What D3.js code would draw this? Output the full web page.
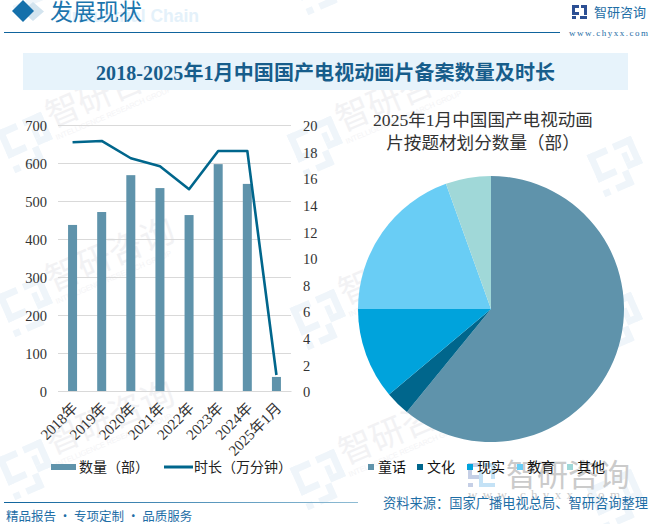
<!DOCTYPE html>
<html><head><meta charset="utf-8">
<script src="https://cdn.jsdelivr.net/npm/d3@7/dist/d3.min.js"></script>
<style>html,body{margin:0;padding:0;background:#fff}svg{display:block}text{font-family:"Noto Sans CJK SC","Noto Sans",sans-serif}</style>
</head><body><svg id="c" width="650" height="524"></svg>
<script>
const categories=["2018年","2019年","2020年","2021年","2022年","2023年","2024年","2025年1月"];
const counts=[437,471,568,534,463,597,545,37];
const durations=[18.7,18.8,17.5,16.9,15.17,18.05,18.05,1.2];
const leftTicks=[0,100,200,300,400,500,600,700];
const rightTicks=[0,2,4,6,8,10,12,14,16,18,20];
const pieLabels=["童话","文化","现实","教育","其他"];
const pieValues=[60.9,3,11.1,19.5,5.5];
const pieColors=["#5f93ab","#00668c","#00a3dc","#69cdf5","#a0d8d8"];
const wmLogos=[[27,-18],[320,-15],[27,143],[317,147],[617,167],[27,307],[320,320],[617,323],[27,470],[320,480],[617,500]];
const wmTexts=[[27,143],[317,147],[27,307],[320,320],[27,470],[320,480]];
const serif='"Liberation Serif","Noto Sans CJK SC",serif';
const svg=d3.select("#c");
const wm=svg.append("g");
function logoShape(g){
  [[-20,-20,18,6],[-20,-20,6,26],[-20,0,18,6],[-20,14,6,6],[-8,14,14,6],[2,6,6,14],[4,-20,18,6],[16,-20,6,26],[8,0,14,6],[8,-9,5,9]].forEach(r=>
    g.append("rect").attr("x",r[0]).attr("y",r[1]).attr("width",r[2]).attr("height",r[3]));
}
wmLogos.forEach(p=>{
  const g=wm.append("g").attr("transform",`translate(${p[0]},${p[1]}) rotate(-24) scale(1.15)`).attr("fill","#eff5fa");
  logoShape(g);
});
wmTexts.forEach(p=>{
  const g=wm.append("g").attr("transform",`translate(${p[0]+25},${p[1]-15}) rotate(-23)`);
  g.append("text").text("智研咨询").attr("font-size",34).attr("fill","#f2f2f4");
  g.append("text").text("INTELLIGENCE RESEARCH GROUP").attr("y",13).attr("font-size",7.5).attr("textLength",125).attr("fill","#f4f4f6").style("font-family","Liberation Sans");
});
const bl=svg.append("g");
bl.append("rect").attr("x",468).attr("y",463).attr("width",12).attr("height",4).attr("fill","#c5cfe6");
bl.append("rect").attr("x",468).attr("y",463).attr("width",4).attr("height",16).attr("fill","#c5cfe6");
bl.append("rect").attr("x",468).attr("y",475).attr("width",12).attr("height",4).attr("fill","#c5cfe6");
bl.append("rect").attr("x",468).attr("y",483).attr("width",5).attr("height",4).attr("fill","#c5cfe6");
bl.append("rect").attr("x",483).attr("y",463).attr("width",12).attr("height",4).attr("fill","#c4e2f6");
bl.append("rect").attr("x",491).attr("y",463).attr("width",4).attr("height",16).attr("fill","#c4e2f6");
bl.append("rect").attr("x",479).attr("y",483).attr("width",16).attr("height",4).attr("fill","#c4e2f6");
bl.append("rect").attr("x",479).attr("y",471).attr("width",4).attr("height",16).attr("fill","#c4e2f6");
svg.append("text").text("智研咨询").attr("x",506).attr("y",486).attr("font-size",31).attr("fill","#cbcbcb");
svg.append("text").text("www.chyxx.com").attr("x",468).attr("y",499).attr("font-size",13).attr("textLength",152).attr("fill","#cbcbcb").style("font-family",serif);
svg.append("text").text("Industrial Chain").attr("x",199).attr("y",22).attr("text-anchor","end").attr("font-size",17.5).attr("font-weight",700).attr("fill","#e4f1fa").style("font-family","Liberation Sans");
svg.append("path").attr("d","M33 2 L44 11.5 L33 21 L22 11.5Z").attr("fill","#d3e4ef");
svg.append("path").attr("d","M23 0 L34 11 L23 22 L12 11Z").attr("fill","#1570ab");
svg.append("text").text("发展现状").attr("x",50).attr("y",20).attr("font-size",23).attr("fill","#1c75ad");
svg.append("line").attr("x1",4).attr("x2",560).attr("y1",32.5).attr("y2",32.5).attr("stroke","#0f649d").attr("stroke-width",1);
svg.append("rect").attr("x",23).attr("y",53).attr("width",605).attr("height",37).attr("fill","#e7f3fb");
svg.append("text").text("2018-2025年1月中国国产电视动画片备案数量及时长").attr("x",96).attr("y",80).attr("font-size",20).attr("textLength",459).attr("font-weight",700).attr("fill","#175d8b").style("font-family",serif);
const b=svg.append("g").attr("transform","translate(572,5)").attr("fill","#2c4f94");
b.append("rect").attr("width",7).attr("height",3);b.append("rect").attr("width",3).attr("height",10);b.append("rect").attr("y",7).attr("width",7).attr("height",3);
b.append("rect").attr("x",9).attr("width",6).attr("height",3);b.append("rect").attr("x",12).attr("width",3).attr("height",10);b.append("rect").attr("x",8).attr("y",11).attr("width",7).attr("height",3);b.append("rect").attr("y",11).attr("width",4).attr("height",3);
svg.append("text").text("智研咨询").attr("x",594).attr("y",17).attr("font-size",13).attr("fill","#1e6ea6");
svg.append("text").text("www.chyxx.com").attr("x",569).attr("y",36).attr("font-size",9).attr("fill","#1e6ea6").attr("textLength",79).style("font-family",serif);
const x=d3.scaleBand().domain(categories).range([58,291]);
const yL=d3.scaleLinear().domain([0,700]).range([391,125]);
const yR=d3.scaleLinear().domain([0,20]).range([391,125]);
const cx=d=>x(d)+x.bandwidth()/2;
svg.append("g").selectAll("line").data(leftTicks).join("line").attr("x1",58).attr("x2",291).attr("y1",d=>yL(d)+.5).attr("y2",d=>yL(d)+.5).attr("stroke","#d9d9d9");
svg.append("g").selectAll("rect").data(counts).join("rect").attr("x",(d,i)=>cx(categories[i])-4.5).attr("width",9).attr("y",d=>yL(d)).attr("height",d=>391-yL(d)).attr("fill","#5f93ab");
svg.append("path").datum(durations).attr("fill","none").attr("stroke","#00668c").attr("stroke-width",2.6).attr("stroke-linejoin","round")
 .attr("d",d3.line().x((d,i)=>cx(categories[i])).y(d=>yR(d)));
const axL=svg.append("g").attr("transform","translate(47,1)").call(d3.axisLeft(yL).tickValues(leftTicks).tickSize(0).tickPadding(0));
const axR=svg.append("g").attr("transform","translate(303,1)").call(d3.axisRight(yR).tickValues(rightTicks).tickSize(0).tickPadding(0));
[axL,axR].forEach(a=>{a.select(".domain").remove();a.selectAll("text").attr("font-size",14.5).attr("fill","#333").style("font-family",serif)});
const axX=svg.append("g").attr("transform","translate(0,391)").call(d3.axisBottom(x).tickSize(0).tickPadding(0));
axX.select(".domain").attr("stroke","#d9d9d9");
axX.selectAll("text").attr("text-anchor","end").attr("font-size",15).attr("fill","#333").attr("dy",0).attr("y",0).style("font-family",serif)
 .attr("transform","translate(6,18) rotate(-45)");
svg.append("rect").attr("x",51).attr("y",464).attr("width",25).attr("height",6).attr("fill","#5f93ab");
svg.append("text").text("数量（部）").attr("x",79).attr("y",472).attr("font-size",14).attr("fill","#222");
svg.append("line").attr("x1",164).attr("x2",193).attr("y1",467).attr("y2",467).attr("stroke","#00668c").attr("stroke-width",3);
svg.append("text").text("时长（万分钟）").attr("x",194).attr("y",472).attr("font-size",14).attr("fill","#222");
const pie=d3.pie().sort(null)(pieValues);
const arc=d3.arc().innerRadius(0).outerRadius(133);
svg.append("g").attr("transform","translate(491,309)").selectAll("path").data(pie).join("path").attr("d",arc).attr("fill",(d,i)=>pieColors[i]);
svg.append("text").attr("text-anchor","middle").attr("font-size",17.6).attr("fill","#333").selectAll("tspan").data(["2025年1月中国国产电视动画","片按题材划分数量（部）"]).join("tspan").attr("x",483).attr("y",(d,i)=>126+i*23).text(d=>d).style("font-family",serif);
const lx=[368,417,467,517,567];
pieLabels.forEach((l,i)=>{
 svg.append("rect").attr("x",lx[i]).attr("y",464).attr("width",6).attr("height",6).attr("fill",pieColors[i]);
 svg.append("text").text(l).attr("x",lx[i]+10).attr("y",472).attr("font-size",14).attr("fill","#111");
});
const grad=svg.append("defs").append("linearGradient").attr("id","fg");
grad.append("stop").attr("offset",0).attr("stop-color","#0f649d");grad.append("stop").attr("offset",1).attr("stop-color","#8fbcd4");
svg.append("rect").attr("x",4).attr("y",502).attr("width",354).attr("height",1).attr("fill","url(#fg)");
svg.append("text").text("精品报告 · 专项定制 · 品质服务").attr("x",6).attr("y",521).attr("font-size",12.5).attr("fill","#1e6ea6");
svg.append("text").text("资料来源：国家广播电视总局、智研咨询整理").attr("x",383).attr("y",508).attr("font-size",13.25).attr("fill","#1e6ea6");
</script></body></html>
